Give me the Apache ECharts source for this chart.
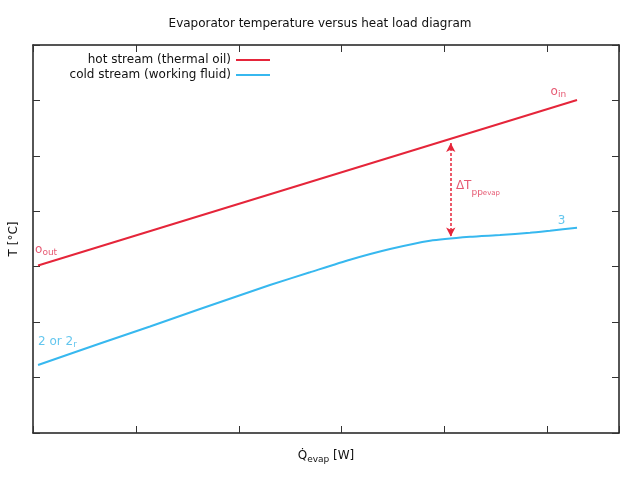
<!DOCTYPE html>
<html>
<head>
<meta charset="utf-8">
<script src="https://cdn.jsdelivr.net/npm/echarts@6/dist/echarts.min.js"></script>
<style>
html,body{margin:0;padding:0;background:#fff;}
#pic{width:640px;height:480px;}
</style>
</head>
<body>
<div id="pic"></div>
<script>
// values (axis units, no tick labels shown)
var hotX=[0.049,5.287];
var hotT=[3.022,6.008];
var coldX=[0.049,0.651,1.137,1.623,2.303,2.692,3.081,3.470,3.858,4.247,4.538,4.830,5.024,5.287];
var coldT=[1.227,1.615,1.921,2.237,2.670,2.899,3.126,3.319,3.469,3.541,3.572,3.612,3.650,3.704];
var pinchX=[4.06,4.06];
var pinchT=[5.23,3.545];
var labelText=['{m|o}{s|in}','{m|o}{s|out}','{M|ΔT}{s|pp}{ss|evap}','{m|3}','{m|2 or 2}{s|r}'];
var labelX=[5.03,0.02,4.11,5.10,0.049];
var labelT=[6.15,3.30,4.456,3.825,1.642];
var labelCol=['#e0304f','#e0304f','#e0304f','#3cb8ea','#3cb8ea'];
var names=['hot stream (thermal oil)','cold stream (working fluid)'];

var red='#e5253a';
var blue='#37b8ef';
var font='DejaVu Sans';
// subscripts: bottom-aligned small tokens inside a taller line
var rich={
	m:{fontFamily:font,fontSize:12,lineHeight:14,verticalAlign:'middle'},
	M:{fontFamily:font,fontSize:12,lineHeight:22,verticalAlign:'middle'},
	q:{fontFamily:font,fontSize:12,lineHeight:16,verticalAlign:'middle'},
	s:{fontFamily:font,fontSize:9,lineHeight:10,verticalAlign:'bottom'},
	ss:{fontFamily:font,fontSize:7,lineHeight:8,verticalAlign:'bottom'}
};
function zip(a,b){
	return a.map(function(v,i){return [v,b[i]];});
}
var labelData=labelX.map(function(x,i){
	var r={};
	for(var k in rich){r[k]=Object.assign({},rich[k],{color:labelCol[i]});}
	return {value:[x,labelT[i]],label:{formatter:labelText[i],rich:r}};
});

var frame={show:true,onZero:false,lineStyle:{color:'#1e1e1e',width:1.5}};
var ticks={show:true,inside:true,length:7,lineStyle:{color:'#333',width:1}};
function axis(pos,min,max,extra){
	return Object.assign({
		type:'value',position:pos,min:min,max:max,interval:1,
		axisLine:frame,axisTick:ticks,axisLabel:{show:false},splitLine:{show:false}
	},extra||{});
}
function legend(name,top){
	return {
		data:[name],right:370,top:top,orient:'vertical',align:'right',padding:0,
		icon:'rect',itemWidth:34,itemHeight:2,selectedMode:false,
		textStyle:{fontFamily:font,fontSize:12,color:'#111'}
	};
}

var myChart=echarts.init(document.getElementById('pic'));
myChart.setOption({
	animation:false,
	backgroundColor:'#fff',
	title:{
		text:'Evaporator temperature versus heat load diagram',left:'center',top:13,
		textStyle:{fontFamily:font,fontSize:12,fontWeight:'normal',color:'#111'}
	},
	legend:[legend(names[0],54),legend(names[1],69)],
	grid:{left:33,right:21,top:45,bottom:47,containLabel:false,outerBoundsMode:'none'},
	xAxis:[
		axis('bottom',0,5.695,{
			name:'{q|Q̇}{s|evap}{q| [W]}',nameLocation:'middle',nameGap:15,
			nameTextStyle:{color:'#111',rich:rich}
		}),
		axis('top',0,5.695)
	],
	yAxis:[
		axis('left',0,7,{
			name:'T [°C]',nameLocation:'middle',nameGap:13,nameRotate:90,
			nameTextStyle:{fontFamily:font,fontSize:12,color:'#111'}
		}),
		axis('right',0,7)
	],
	series:[
		{
			name:names[0],type:'line',data:zip(hotX,hotT),showSymbol:false,
			color:red,lineStyle:{color:red,width:2},
			markLine:{
				silent:true,symbol:['arrow','arrow'],symbolSize:[7,9],
				label:{show:false},
				lineStyle:{color:red,width:1.5,type:[3,2]},
				data:[[{coord:[pinchX[0],pinchT[0]]},{coord:[pinchX[1],pinchT[1]]}]]
			}
		},
		{
			name:names[1],type:'line',data:zip(coldX,coldT),showSymbol:false,
			smooth:0.2,
			color:blue,lineStyle:{color:blue,width:2}
		},
		{
			name:'labels',type:'scatter',symbolSize:0,silent:true,data:labelData,
			label:{show:true,position:'inside',align:'left',verticalAlign:'middle'}
		}
	]
});
</script>
</body>
</html>
